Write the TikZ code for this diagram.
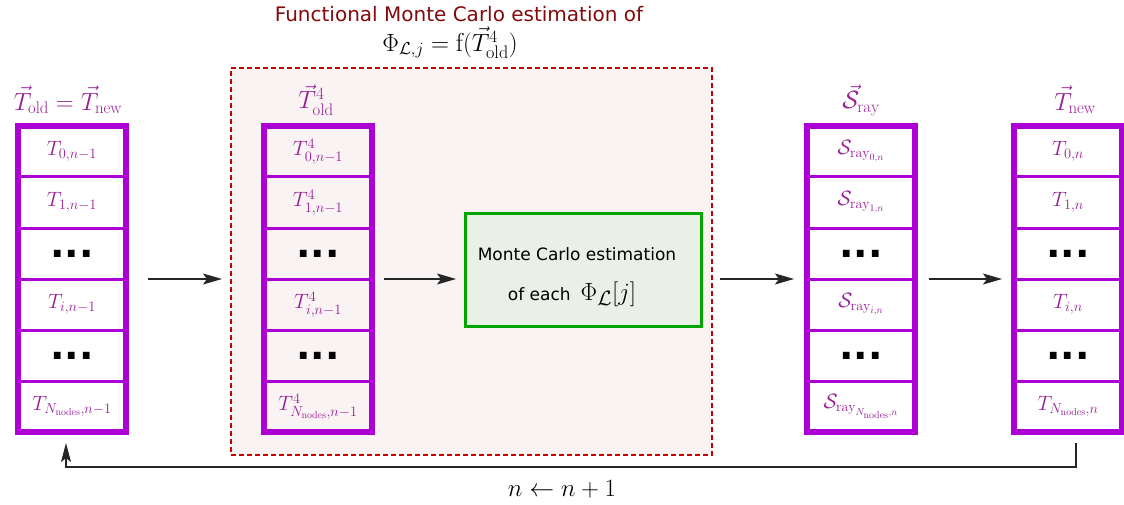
\documentclass[tikz,border=0pt]{standalone}
\usepackage{fontspec}
\usepackage{amsmath}
\newfontfamily\dejavu{DejaVu Sans}
\usetikzlibrary{arrows.meta,fit,calc}
\definecolor{purp}{RGB}{172,0,212}
\definecolor{ptext}{RGB}{150,30,150}
\definecolor{dred}{RGB}{200,0,0}
\definecolor{ttl}{RGB}{130,10,10}
\definecolor{boxfill}{RGB}{249,243,243}
\definecolor{gborder}{RGB}{0,165,0}
\definecolor{gfill}{RGB}{234,240,229}
\newcommand{\mydots}{{\color{black}\dejavu\bfseries\fontsize{38}{40}\selectfont ...}}
\begin{document}
\begin{tikzpicture}[x=1pt,y=-1pt,
 cell/.style={draw=purp, line width=3pt, minimum width=108pt, minimum height=51pt,
   inner sep=0pt, outer sep=0pt, text=ptext, font=\fontsize{20}{24}\selectfont},
 frame/.style={draw=purp, line width=5.5pt, inner sep=0pt, outer sep=0pt},
 collabel/.style={text=ptext, font=\fontsize{24}{28}\selectfont},
 arr/.style={-{Stealth[length=19pt,width=11pt,inset=4pt]}, line width=1.2pt, draw=black!85},
 fbarr/.style={-{Stealth[length=19pt,width=10pt,inset=4pt]}, line width=1.2pt, draw=black!85},
 mcbox/.style={draw=dred, line width=2pt, dash pattern=on 5pt off 3pt, fill=boxfill,
   minimum width=481pt, minimum height=387pt, inner sep=0pt, outer sep=0pt},
 greenbox/.style={draw=gborder, line width=3pt, fill=gfill, minimum width=236pt,
   minimum height=112pt, inner sep=0pt, outer sep=0pt},
]
\useasboundingbox (0,0) rectangle (1124,505);

% title
\node[text=ttl, font=\dejavu\fontsize{20}{24}\selectfont] (t1) at (459,14) {Functional Monte Carlo estimation of};
\node[font=\fontsize{26}{30}\selectfont] (t2) at (450,43) {$\Phi_{\mathcal{L},j}=\mathrm{f}(\vec{T}^4_{\mathrm{old}})$};

% dashed container
\node[mcbox] (mcb) at (471.5,261.5) {};

% column 1
\node[collabel] (la) at (68,100) {$\vec{T}_{\mathrm{old}}=\vec{T}_{\mathrm{new}}$};
\node[cell] (a0) at (72,151.5) {$T_{0,n-1}$};
\node[cell] (a1) at (72,202.5) {$T_{1,n-1}$};
\node[cell] (a2) at (72,253.5) {\mydots};
\node[cell] (a3) at (72,304.5) {$T_{i,n-1}$};
\node[cell] (a4) at (72,355.5) {\mydots};
\node[cell] (a5) at (72,406.5) {$T_{N_{\mathrm{nodes}},n-1}$};
\node[frame, fit=(a0)(a5)] (fa) {};

% column 2
\node[collabel] (lb) at (316,100) {$\vec{T}^4_{\mathrm{old}}$};
\node[cell] (b0) at (318,151.5) {$T^4_{0,n-1}$};
\node[cell] (b1) at (318,202.5) {$T^4_{1,n-1}$};
\node[cell] (b2) at (318,253.5) {\mydots};
\node[cell] (b3) at (318,304.5) {$T^4_{i,n-1}$};
\node[cell] (b4) at (318,355.5) {\mydots};
\node[cell] (b5) at (318,406.5) {$T^4_{N_{\mathrm{nodes}},n-1}$};
\node[frame, fit=(b0)(b5)] (fb) {};

% green box
\node[greenbox] (mc) at (583,270) {};
\node[font=\dejavu\fontsize{17}{20}\selectfont] (mc1) at (577,254) {Monte Carlo estimation};
\node (mc2) at (572,294) {{\dejavu\fontsize{17}{20}\selectfont of each}\hspace{10pt}{\fontsize{28}{30}\selectfont$\Phi_{\mathcal{L}}[j]$}};

% column 3
\node[collabel] (lc) at (861,100) {$\vec{\mathcal{S}}_{\mathrm{ray}}$};
\node[cell] (c0) at (861,151.5) {$\mathcal{S}_{\mathrm{ray}_{0,n}}$};
\node[cell] (c1) at (861,202.5) {$\mathcal{S}_{\mathrm{ray}_{1,n}}$};
\node[cell] (c2) at (861,253.5) {\mydots};
\node[cell] (c3) at (861,304.5) {$\mathcal{S}_{\mathrm{ray}_{i,n}}$};
\node[cell] (c4) at (861,355.5) {\mydots};
\node[cell] (c5) at (861,406.5) {$\mathcal{S}_{\mathrm{ray}_{N_{\mathrm{nodes}},n}}$};
\node[frame, fit=(c0)(c5)] (fc) {};

% column 4
\node[collabel] (ld) at (1075,100) {$\vec{T}_{\mathrm{new}}$};
\node[cell] (d0) at (1068,151.5) {$T_{0,n}$};
\node[cell] (d1) at (1068,202.5) {$T_{1,n}$};
\node[cell] (d2) at (1068,253.5) {\mydots};
\node[cell] (d3) at (1068,304.5) {$T_{i,n}$};
\node[cell] (d4) at (1068,355.5) {\mydots};
\node[cell] (d5) at (1068,406.5) {$T_{N_{\mathrm{nodes}},n}$};
\node[frame, fit=(d0)(d5)] (fd) {};

% arrows
\draw[arr, shorten <=22pt, shorten >=42pt] (fa.east) -- (fb.west);
\draw[arr, shorten <=12pt, shorten >=9pt] (fb.east) -- (fb.east -| mc.west);
\draw[arr, shorten <=19pt, shorten >=13pt] (mc.east |- fc.west) -- (fc.west);
\draw[arr, shorten <=14pt, shorten >=12pt] (fc.east) -- (fd.west);

% feedback
\coordinate (fbR) at (1076,443);
\coordinate (fbL) at (66,443);
\draw[fbarr] (fbR) -- (1076,467) -| (fbL);
\node[font=\fontsize{24}{28}\selectfont] (lbl) at (562,489) {$n \leftarrow n+1$};
\end{tikzpicture}
\end{document}
